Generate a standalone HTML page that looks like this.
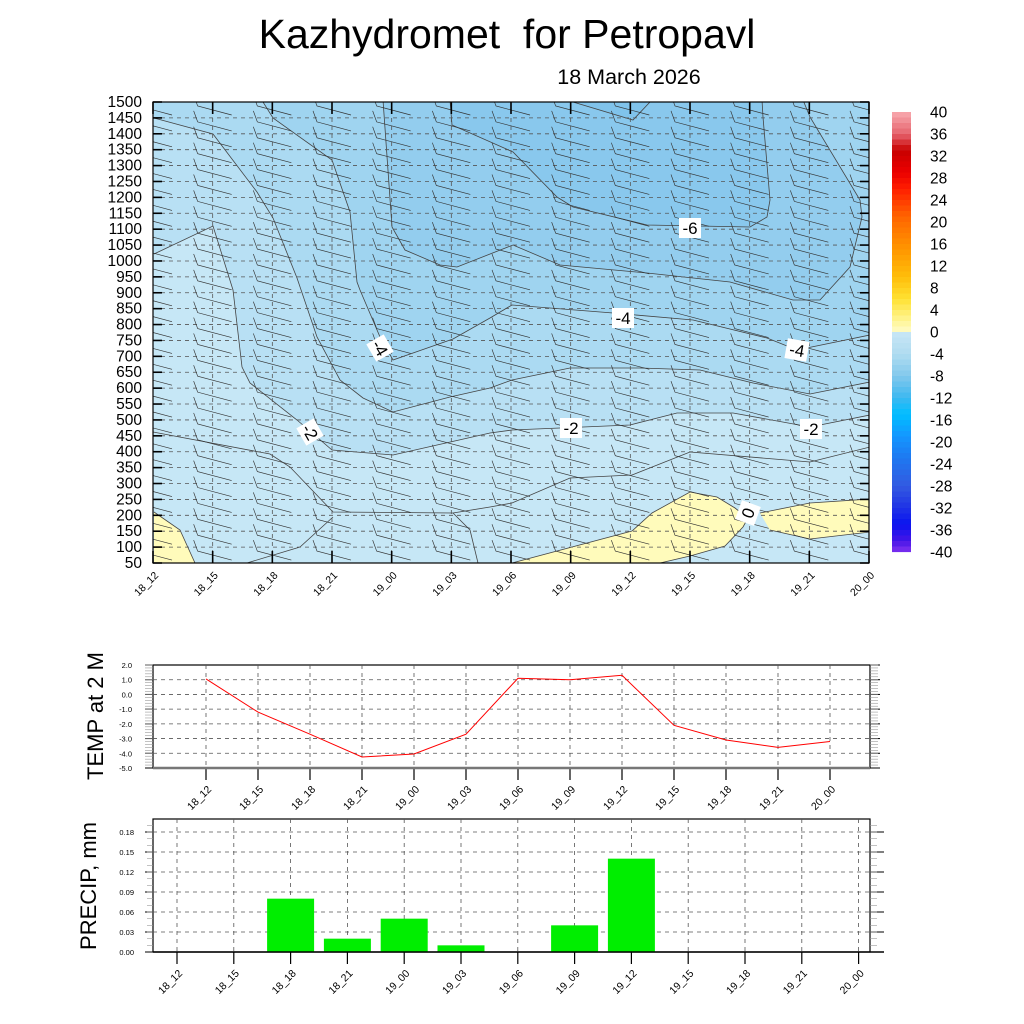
<!DOCTYPE html>
<html><head><meta charset="utf-8"><style>
html,body{margin:0;padding:0;background:#fff;}
svg{display:block;font-family:"Liberation Sans",sans-serif;}
</style></head><body>
<svg id="root" width="1024" height="1024" viewBox="0 0 1024 1024" xmlns="http://www.w3.org/2000/svg">
<text x="507" y="48" font-size="41" text-anchor="middle">Kazhydromet&#160; for Petropavl</text>
<text x="629" y="84" font-size="21.5" text-anchor="middle">18 March 2026</text>
<defs><clipPath id="mainclip"><rect x="153" y="102" width="716" height="461"/></clipPath></defs>
<g id="main">
<g clip-path="url(#mainclip)">
<rect x="153" y="102" width="716" height="461" fill="#c6e7f6"/>
<polygon fill="#b8e0f4" points="154,254 213,226 233,290 242,367 250,383 297,420 332,450 393,455 490,433 512,430 560,428 630,425 677,413 733,413 810,427 870,415 870,102 154,102"/>
<polygon fill="#abdaf2" points="154,118 213,134 257,192 273,218 297,278 317,337 340,380 363,398 393,412 450,397 490,388 512,380 570,368 640,368 700,370 753,383 810,394 870,382 870,102 154,102"/>
<polygon fill="#9fd4f0" points="263,102 273,118 332,160 350,212 357,282 360,290 380,337 393,360 453,339 490,318 512,305 613,313 693,320 767,338 797,350 870,335 870,102"/>
<polygon fill="#93cdee" points="383,100 392,227 405,250 440,265 457,267 513,245 560,265 647,273 730,282 793,300 820,300 850,267 862,217 860,200 810,117 803,100"/>
<polygon fill="#89c8ed" points="450,100 452,125 513,152 557,197 573,207 647,225 750,227 767,217 770,200 763,117 762,100"/>
<polygon fill="#80c3eb" points="573,102 633,120 650,102"/>
<polygon fill="#fffbbb" points="154,512 180,530 195,563 154,563"/>
<polygon fill="#fffbbb" points="512,563 632,531 652,513 690,492 717,497 735,508 748,518 743,527 725,546 690,556 660,563"/>
<polygon fill="#fffbbb" points="760,513 810,503 870,499 870,532 810,539 770,530"/>
<g fill="none" stroke="#444" stroke-width="0.8">
<polyline points="154,254 213,226 233,290 242,367 250,383 297,420 332,450 393,455 490,433 512,430 560,428 630,425 677,413 733,413 810,427 870,415"/>
<polyline points="154,118 213,134 257,192 273,218 297,278 317,337 340,380 363,398 393,412 450,397 490,388 512,380 570,368 640,368 700,370 753,383 810,394 870,382"/>
<polyline points="263,102 273,118 332,160 350,212 357,282 360,290 380,337 393,360 453,339 490,318 512,305 613,313 693,320 767,338 797,350 870,335"/>
<polyline points="383,100 392,227 405,250 440,265 457,267 513,245 560,265 647,273 730,282 793,300 820,300 850,267 862,217 860,200 810,117 803,100"/>
<polyline points="450,100 452,125 513,152 557,197 573,207 647,225 750,227 767,217 770,200 763,117 762,100"/>
<polyline points="573,102 633,120 650,102"/>
<polyline points="153,432 270,454 290,467 333,512 453,513 490,507 512,503 570,478 632,475 690,452 810,462 870,447"/>
<polyline points="333,517 300,547 247,563"/><polyline points="453,513 470,530 478,563"/>
<polyline points="154,512 180,530 195,563"/>
<polygon points="512,563 632,531 652,513 690,492 717,497 735,508 748,518 743,527 725,546 690,556 660,563"/>
<polyline points="760,513 810,503 870,499"/><polyline points="770,530 810,539 870,532"/>
</g>
<g id="grid"></g>
<g id="barbs"></g>
</g>
<rect x="153" y="102" width="716" height="461" fill="none" stroke="#000" stroke-width="1.2"/>
<g id="mainaxes"></g>
<g font-size="17">
<g transform="translate(310,432) rotate(60)"><rect x="-10" y="-10" width="20" height="20" fill="#fff"/><text y="6" text-anchor="middle">-2</text></g>
<g transform="translate(380,348) rotate(60)"><rect x="-10" y="-10" width="20" height="20" fill="#fff"/><text y="6" text-anchor="middle">-4</text></g>
<g transform="translate(571,428)"><rect x="-11" y="-10" width="22" height="20" fill="#fff"/><text y="6" text-anchor="middle">-2</text></g>
<g transform="translate(811,429)"><rect x="-11" y="-10" width="22" height="20" fill="#fff"/><text y="6" text-anchor="middle">-2</text></g>
<g transform="translate(623,318)"><rect x="-11" y="-10" width="22" height="20" fill="#fff"/><text y="6" text-anchor="middle">-4</text></g>
<g transform="translate(797,350) rotate(10)"><rect x="-11" y="-10" width="22" height="20" fill="#fff"/><text y="6" text-anchor="middle">-4</text></g>
<g transform="translate(690,228)"><rect x="-11" y="-10" width="22" height="20" fill="#fff"/><text y="6" text-anchor="middle">-6</text></g>
<g transform="translate(748,513) rotate(-70)"><rect x="-10" y="-10" width="20" height="20" fill="#fff"/><text y="6" text-anchor="middle">0</text></g>
</g>
</g>
<g id="colorbar"></g>
<g id="temp"></g>
<g id="precip"></g>
</svg>
<script>
const times = ["18_12","18_15","18_18","18_21","19_00","19_03","19_06","19_09","19_12","19_15","19_18","19_21","20_00"];
const levels = [1500,1450,1400,1350,1300,1250,1200,1150,1100,1050,1000,950,900,850,800,750,700,650,600,550,500,450,400,350,300,250,200,150,100,50];
const tempValues = [1.05,-1.2,-2.7,-4.25,-4.05,-2.7,1.1,1.0,1.3,-2.1,-3.1,-3.6,-3.2];
const tempTicks = ["2.0","1.0","0.0","-1.0","-2.0","-3.0","-4.0","-5.0"];
const precipValues = [0,0,0.08,0.02,0.05,0.01,0,0.04,0.14,0,0,0,0];
const precipTicks = ["0.00","0.03","0.06","0.09","0.12","0.15","0.18"];
const cbLabels = ["40","36","32","28","24","20","16","12","8","4","0","-4","-8","-12","-16","-20","-24","-28","-32","-36","-40"];
const NS="http://www.w3.org/2000/svg";
function mk(parent,tag,attrs,text){const e=document.createElementNS(NS,tag);for(const k in attrs)e.setAttribute(k,attrs[k]);if(text!==undefined)e.textContent=text;parent.appendChild(e);return e;}
const mX=i=>153+i*(716/12);
const mY=p=>563-(p-50)*461/1450;
const grid=document.getElementById('grid');
levels.forEach(p=>{if(p>50&&p<1500){const l=mk(grid,'line',{x1:153,x2:869,y1:mY(p),y2:mY(p),stroke:'#555','stroke-width':0.8,'stroke-dasharray':'4,4'});

}});
times.forEach((t,i)=>{if(i>0&&i<12){const l=mk(grid,'line',{x1:mX(i),x2:mX(i),y1:102,y2:563,stroke:'#555','stroke-width':0.8,'stroke-dasharray':'4,4'});

}});
const barbs=document.getElementById('barbs');
times.forEach((t,i)=>{levels.forEach(p=>{if(p<=50)return;const x=mX(i),y=mY(p);
const g=mk(barbs,'path',{d:`M${x-19},${y-7} L${x-15},${y+4} L${x+19},${y+13}`,fill:'none',stroke:'#333','stroke-width':0.65});

});});
const ax=document.getElementById('mainaxes');
levels.forEach(p=>{const y=mY(p);
mk(ax,'line',{x1:153,x2:162,y1:y,y2:y,stroke:'#000','stroke-width':1.6});
mk(ax,'line',{x1:860,x2:869,y1:y,y2:y,stroke:'#000','stroke-width':1.6});
const tx=mk(ax,'text',{x:142,y:y+5,'font-size':15.5,'text-anchor':'end'},String(p));

});
times.forEach((t,i)=>{const x=mX(i);
mk(ax,'line',{x1:x,x2:x,y1:102,y2:114,stroke:'#000','stroke-width':1.6});
mk(ax,'line',{x1:x,x2:x,y1:551,y2:563,stroke:'#000','stroke-width':1.6});
const tx=mk(ax,'text',{x:0,y:0,'font-size':10.5,'text-anchor':'end',transform:`translate(${x+6},${576}) rotate(-45)`},t);

});
const cb=document.getElementById('colorbar');
const stops=[[40,[248,170,175]],[36,[230,100,110]],[33,[200,0,0]],[29,[235,0,0]],[26,[255,30,0]],[21,[255,100,0]],[15,[255,150,0]],[10,[255,190,10]],[6,[255,225,50]],[2,[255,245,150]],[0,[255,252,200]],[-0.01,[200,230,246]],[-4,[176,220,240]],[-8,[130,200,236]],[-12,[60,184,240]],[-15,[0,190,255]],[-19,[20,150,255]],[-23,[30,120,240]],[-28,[50,90,225]],[-32,[30,50,230]],[-35,[10,20,240]],[-38,[70,20,230]],[-40,[130,50,240]]];
function cbCol(v){for(let k=0;k<stops.length-1;k++){const a=stops[k],b=stops[k+1];if(v<=a[0]&&v>=b[0]){const f=(a[0]-v)/(a[0]-b[0]||1);return 'rgb('+a[1].map((c,j)=>Math.round(c+(b[1][j]-c)*f)).join(',')+')';}}return '#fff';}
const cbY=v=>332-v*5.5;
for(let v=40;v>-40;v-=1){const r=mk(cb,'rect',{x:892,y:cbY(v),width:19,height:5.6,fill:cbCol(v-0.5)});

}
cbLabels.forEach(l=>{const tx=mk(cb,'text',{x:930,y:cbY(+l)+5.5,'font-size':15.5},l);

});
const tg=document.getElementById('temp');
const tX=i=>206+i*52, tY=v=>665+(2-v)*(103/7);
mk(tg,'rect',{x:153,y:665,width:717,height:103,fill:'none',stroke:'#000','stroke-width':1.2});
tempTicks.forEach(s=>{const v=+s,y=tY(v);
if(v<2&&v>-5){const l=mk(tg,'line',{x1:153,x2:870,y1:y,y2:y,stroke:'#555','stroke-width':0.8,'stroke-dasharray':'4,4'});

}
mk(tg,'line',{x1:145,x2:153,y1:y,y2:y,stroke:'#000'});mk(tg,'line',{x1:870,x2:880,y1:y,y2:y,stroke:'#000'});
const tx=mk(tg,'text',{x:132,y:y+3,'font-size':7.5,'text-anchor':'end'},s);

});
for(let v=2;v>=-5;v-=0.2){const y=tY(v);mk(tg,'line',{x1:145,x2:153,y1:y,y2:y,stroke:'#999','stroke-width':0.6});mk(tg,'line',{x1:870,x2:878,y1:y,y2:y,stroke:'#999','stroke-width':0.6});}
times.forEach((t,i)=>{const x=tX(i);
const l=mk(tg,'line',{x1:x,x2:x,y1:665,y2:768,stroke:'#555','stroke-width':0.8,'stroke-dasharray':'4,4'});


mk(tg,'line',{x1:x,x2:x,y1:768,y2:780,stroke:'#000','stroke-width':1.2});
const tx=mk(tg,'text',{x:0,y:0,'font-size':10.5,'text-anchor':'end',transform:`translate(${x+6},${790}) rotate(-45)`},t);

});
mk(tg,'line',{x1:153,x2:870,y1:768,y2:768,stroke:'#777','stroke-width':2.5});
const tl=mk(tg,'polyline',{points:tempValues.map((v,i)=>tX(i)+','+tY(v)).join(' '),fill:'none',stroke:'#f00','stroke-width':1});


const tt=mk(tg,'text',{x:0,y:0,'font-size':22,'text-anchor':'middle',transform:'translate(103,716) rotate(-90)'},'TEMP at 2 M');


const pg=document.getElementById('precip');
const pX=i=>177+i*56.8, pY=v=>952-v*666.7;
mk(pg,'rect',{x:153,y:819,width:717,height:133,fill:'none',stroke:'#000','stroke-width':1.2});
precipTicks.forEach(s=>{const v=+s,y=pY(v);
if(v>0){const l=mk(pg,'line',{x1:153,x2:870,y1:y,y2:y,stroke:'#555','stroke-width':0.8,'stroke-dasharray':'4,4'});

}
mk(pg,'line',{x1:145,x2:153,y1:y,y2:y,stroke:'#000'});mk(pg,'line',{x1:870,x2:884,y1:y,y2:y,stroke:'#000'});
const tx=mk(pg,'text',{x:134,y:y+3,'font-size':7.5,'text-anchor':'end'},s);

});
for(let v=0.01;v<0.2;v+=0.01){const y=pY(v);mk(pg,'line',{x1:147,x2:153,y1:y,y2:y,stroke:'#999','stroke-width':0.6});mk(pg,'line',{x1:870,x2:877,y1:y,y2:y,stroke:'#999','stroke-width':0.6});}
times.forEach((t,i)=>{const x=pX(i);
const l=mk(pg,'line',{x1:x,x2:x,y1:819,y2:952,stroke:'#555','stroke-width':0.8,'stroke-dasharray':'4,4'});


const v=precipValues[i];
if(v>0){const b=mk(pg,'rect',{x:x-23.5,y:pY(v),width:47,height:952-pY(v),fill:'#00ee00'});

}
mk(pg,'line',{x1:x,x2:x,y1:952,y2:964,stroke:'#000','stroke-width':1.2});
const tx=mk(pg,'text',{x:0,y:0,'font-size':10.5,'text-anchor':'end',transform:`translate(${x+6},${974}) rotate(-45)`},t);

});
mk(pg,'line',{x1:153,x2:884,y1:952,y2:952,stroke:'#000','stroke-width':1.5});
const pt=mk(pg,'text',{x:0,y:0,'font-size':22,'text-anchor':'middle',transform:'translate(96,886) rotate(-90)'},'PRECIP, mm');


</script>
</body></html>
